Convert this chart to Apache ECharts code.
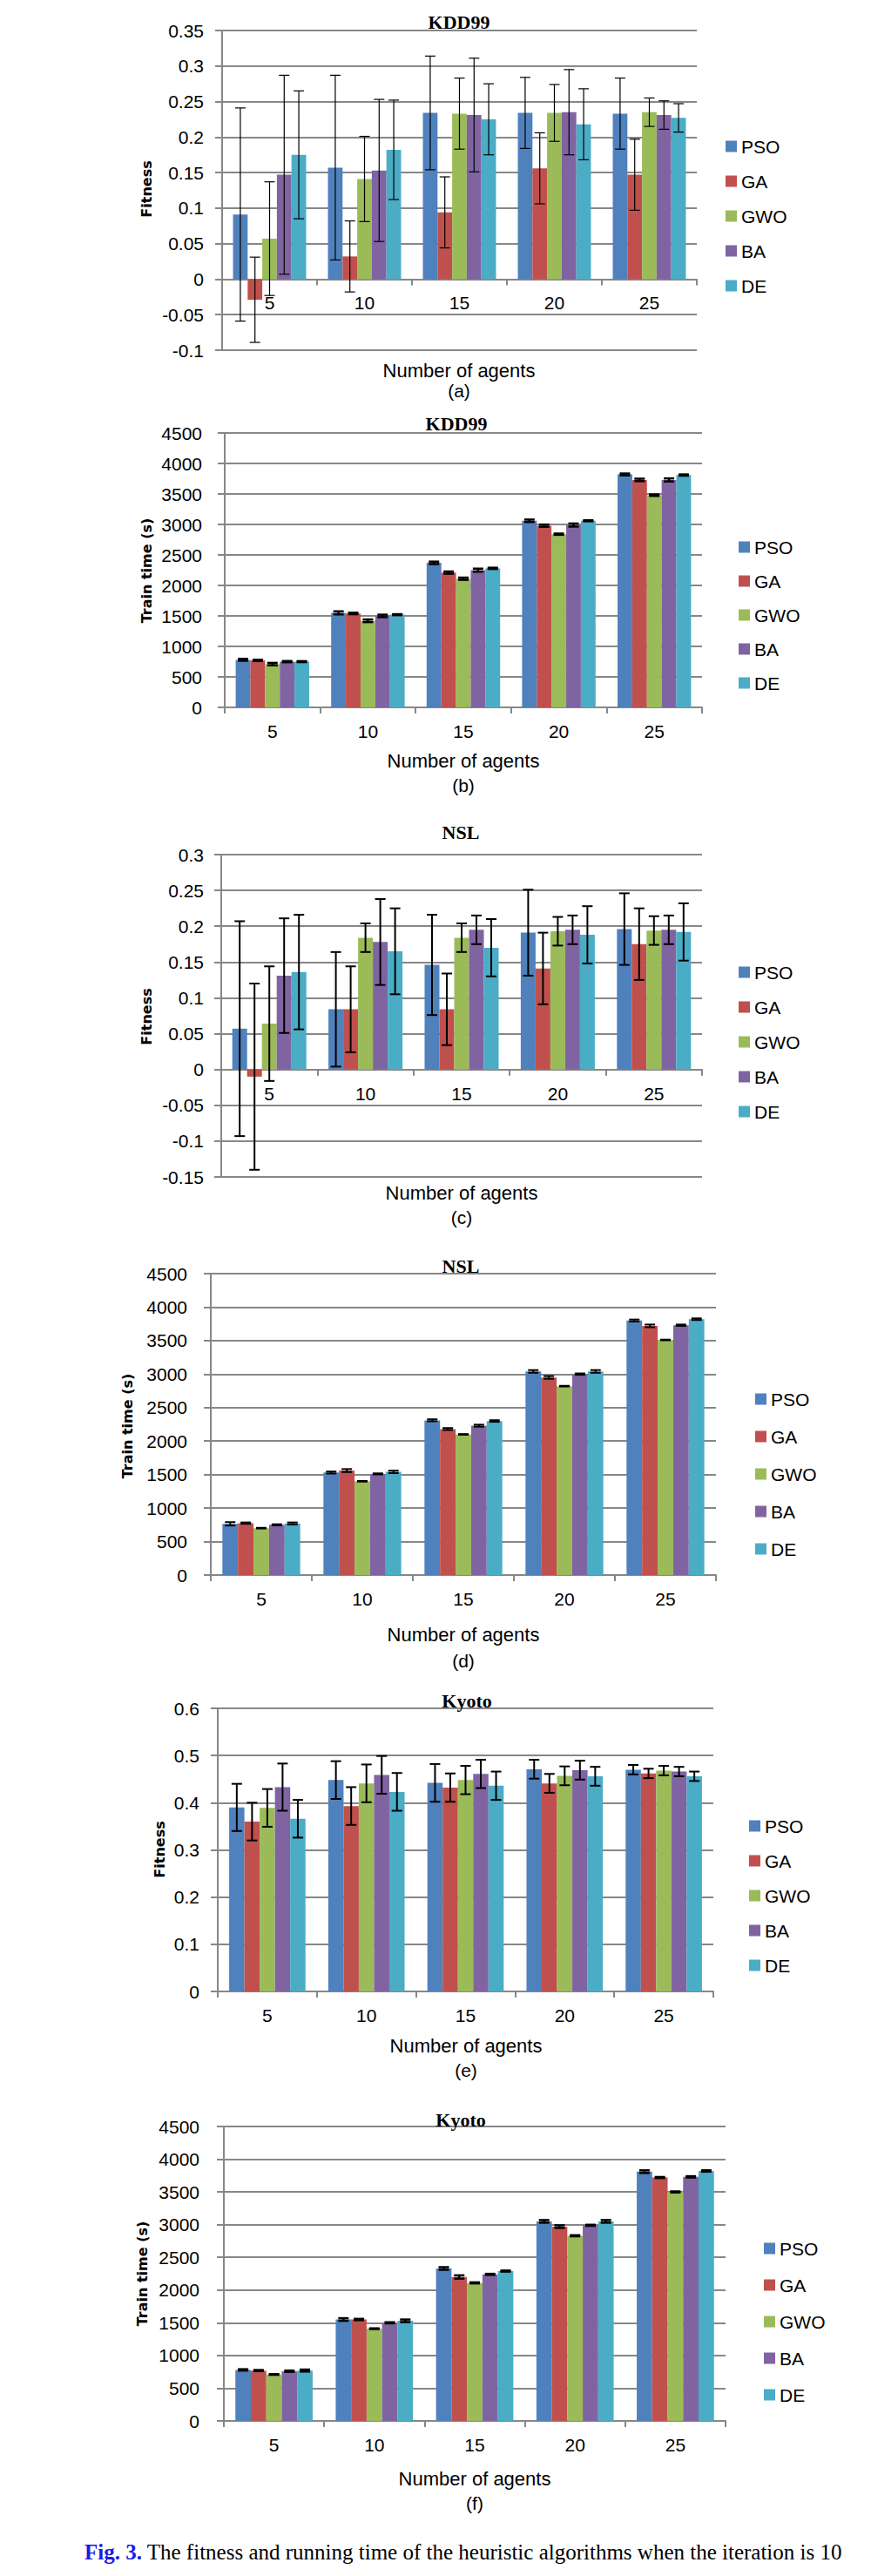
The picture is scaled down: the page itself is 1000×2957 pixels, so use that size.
<!DOCTYPE html>
<html><head><meta charset="utf-8">
<script src="https://cdn.jsdelivr.net/npm/echarts@6/dist/echarts.min.js"></script>
<style>html,body{margin:0;padding:0;background:#fff}#c{width:1000px;height:2957px}</style>
</head><body><div id="c"></div>
<script>
const categories = ['5', '10', '15', '20', '25'];
const algorithms = ['PSO', 'GA', 'GWO', 'BA', 'DE'];
const colors = ['#4F81BD', '#C0504D', '#9BBB59', '#8064A2', '#4BACC6'];

// rows: PSO, GA, GWO, BA, DE ; columns: 5,10,15,20,25 agents
const kddFitnessMean = [
  [0.091, 0.157, 0.234, 0.234, 0.233],
  [-0.029, 0.032, 0.094, 0.156, 0.147],
  [0.057, 0.141, 0.233, 0.234, 0.235],
  [0.147, 0.153, 0.231, 0.235, 0.231],
  [0.175, 0.182, 0.225, 0.218, 0.227]
];
const kddFitnessErr = [
  [0.150, 0.130, 0.080, 0.050, 0.050],
  [0.060, 0.050, 0.050, 0.050, 0.050],
  [0.080, 0.060, 0.050, 0.040, 0.020],
  [0.140, 0.100, 0.080, 0.060, 0.020],
  [0.090, 0.070, 0.050, 0.050, 0.020]
];
const kddTimeMean = [
  [780, 1550, 2370, 3060, 3820],
  [770, 1540, 2210, 2980, 3730],
  [710, 1420, 2110, 2840, 3480],
  [750, 1500, 2250, 2990, 3730],
  [750, 1520, 2280, 3060, 3810]
];
const kddTimeErr = [
  [15, 25, 20, 20, 15],
  [10, 12, 18, 18, 20],
  [20, 22, 18, 10, 12],
  [10, 20, 25, 25, 25],
  [8, 8, 10, 8, 10]
];
const nslFitnessMean = [
  [0.057, 0.084, 0.146, 0.191, 0.196],
  [-0.010, 0.084, 0.084, 0.141, 0.175],
  [0.064, 0.184, 0.184, 0.193, 0.194],
  [0.131, 0.178, 0.195, 0.195, 0.195],
  [0.136, 0.165, 0.170, 0.188, 0.192]
];
const nslFitnessErr = [
  [0.150, 0.080, 0.070, 0.060, 0.050],
  [0.130, 0.060, 0.050, 0.050, 0.050],
  [0.080, 0.020, 0.020, 0.020, 0.020],
  [0.080, 0.060, 0.020, 0.020, 0.020],
  [0.080, 0.060, 0.040, 0.040, 0.040]
];
const nslTimeMean = [
  [765, 1530, 2310, 3040, 3800],
  [775, 1560, 2180, 2950, 3720],
  [700, 1400, 2100, 2820, 3510],
  [750, 1510, 2230, 3000, 3730],
  [770, 1540, 2300, 3040, 3820]
];
const nslTimeErr = [
  [25, 15, 15, 20, 15],
  [10, 22, 15, 20, 20],
  [5, 5, 5, 5, 5],
  [8, 8, 15, 10, 10],
  [15, 18, 12, 20, 12]
];
const kyotoFitnessMean = [
  [0.390, 0.448, 0.442, 0.471, 0.470],
  [0.360, 0.393, 0.432, 0.441, 0.462],
  [0.389, 0.441, 0.448, 0.457, 0.468],
  [0.433, 0.459, 0.461, 0.469, 0.466],
  [0.366, 0.423, 0.436, 0.456, 0.456]
];
const kyotoFitnessErr = [
  [0.050, 0.040, 0.040, 0.020, 0.010],
  [0.040, 0.040, 0.030, 0.020, 0.010],
  [0.040, 0.040, 0.030, 0.020, 0.010],
  [0.050, 0.040, 0.030, 0.020, 0.010],
  [0.040, 0.040, 0.030, 0.020, 0.010]
];
const kyotoTimeMean = [
  [780, 1550, 2330, 3050, 3810],
  [770, 1550, 2200, 2970, 3720],
  [710, 1410, 2110, 2830, 3500],
  [760, 1500, 2240, 2990, 3730],
  [770, 1530, 2290, 3050, 3820]
];
const kyotoTimeErr = [
  [10, 20, 20, 20, 20],
  [8, 10, 25, 20, 8],
  [5, 5, 8, 8, 8],
  [10, 8, 8, 8, 10],
  [15, 20, 8, 20, 10]
];

const SANS = "'Liberation Sans', Arial, sans-serif";
const SERIF = "'Liberation Serif', 'Times New Roman', serif";
const BOLD = "'DejaVu Sans', Verdana, sans-serif";
const GRID = '#878787';
const GAP = 0.23;
const FS = 21;

const panels = [
  { title: 'KDD99', yName: 'Fitness', mean: kddFitnessMean, err: kddFitnessErr, min: -0.1, max: 0.35, interval: 0.05,
    grid: { left: 255, top: 35, width: 545, height: 367 }, titleXY: [527, 25], yTitleXY: [168, 217], xTitle: [527, 425], sub: [527, 448], label: '(a)',
    legend: { left: 833, c: 168, step: 40 }, lw: 1.2, lm: 21 },
  { title: 'KDD99', yName: 'Train time (s)', mean: kddTimeMean, err: kddTimeErr, min: 0, max: 4500, interval: 500,
    grid: { left: 258, top: 497, width: 548, height: 315 }, titleXY: [524, 486], yTitleXY: [168, 655], xTitle: [532, 873], sub: [532, 901], label: '(b)',
    legend: { left: 848, c: 628, step: 39 }, lw: 2.5, lm: 26 },
  { title: 'NSL', yName: 'Fitness', mean: nslFitnessMean, err: nslFitnessErr, min: -0.15, max: 0.3, interval: 0.05,
    grid: { left: 254, top: 981, width: 552, height: 370 }, titleXY: [529, 955], yTitleXY: [168, 1167], xTitle: [530, 1369], sub: [530, 1397], label: '(c)',
    legend: { left: 848, c: 1116, step: 40 }, lw: 2, lm: 20 },
  { title: 'NSL', yName: 'Train time (s)', mean: nslTimeMean, err: nslTimeErr, min: 0, max: 4500, interval: 500,
    grid: { left: 242, top: 1462, width: 580, height: 346 }, titleXY: [529, 1453], yTitleXY: [146, 1637], xTitle: [532, 1876], sub: [532, 1906], label: '(d)',
    legend: { left: 867, c: 1606, step: 43 }, lw: 2, lm: 27 },
  { title: 'Kyoto', yName: 'Fitness', mean: kyotoFitnessMean, err: kyotoFitnessErr, min: 0, max: 0.6, interval: 0.1,
    grid: { left: 250, top: 1961, width: 569, height: 325 }, titleXY: [536, 1952], yTitleXY: [183, 2123], xTitle: [535, 2348], sub: [535, 2376], label: '(e)',
    legend: { left: 860, c: 2096, step: 40 }, lw: 2, lm: 21 },
  { title: 'Kyoto', yName: 'Train time (s)', mean: kyotoTimeMean, err: kyotoTimeErr, min: 0, max: 4500, interval: 500,
    grid: { left: 257, top: 2441, width: 576, height: 338 }, titleXY: [529, 2433], yTitleXY: [163, 2610], xTitle: [545, 2845], sub: [545, 2873], label: '(f)',
    legend: { left: 877, c: 2581, step: 42 }, lw: 2.5, lm: 28 }
];

const grid = [], xAxis = [], yAxis = [], legend = [], series = [], graphic = [];

panels.forEach((p, i) => {
  grid.push(p.grid);
  // move the category axis up to the zero line when the value range includes negatives
  const zeroOffset = p.min < 0 ? -(0 - p.min) / (p.max - p.min) * p.grid.height : 0;
  xAxis.push({
    type: 'category', gridIndex: i, data: categories, position: 'bottom', offset: zeroOffset,
    axisLine: { onZero: false, lineStyle: { color: GRID, width: 2 } },
    axisTick: { show: true, length: 7, interval: 0, alignWithLabel: false, lineStyle: { color: GRID, width: 2 } },
    axisLabel: { fontSize: FS, fontFamily: SANS, color: '#000', margin: 17 },
    splitLine: { show: false }
  });
  yAxis.push({
    type: 'value', gridIndex: i, min: p.min, max: p.max, interval: p.interval,
    axisLine: { show: true, lineStyle: { color: GRID, width: 2 } },
    axisTick: { show: true, length: 8, lineStyle: { color: GRID, width: 2 } },
    axisLabel: { fontSize: FS, fontFamily: SANS, color: '#000', margin: p.lm,
      formatter: function (v) { return String(Math.round(v * 1000) / 1000); } },
    splitLine: { show: true, lineStyle: { color: GRID, width: 2 } }
  });
  legend.push({
    orient: 'vertical', left: p.legend.left, top: p.legend.c - 10.5, padding: 0,
    itemWidth: 13, itemHeight: 13, itemGap: p.legend.step - 21, icon: 'rect', selectedMode: false,
    textStyle: { fontSize: FS, lineHeight: 21, fontFamily: SANS, color: '#000' },
    data: algorithms
  });
  algorithms.forEach((a, k) => {
    series.push({
      name: a, type: 'bar', xAxisIndex: i, yAxisIndex: i,
      data: p.mean[k], barGap: '0%', barCategoryGap: (GAP * 100) + '%',
      itemStyle: { color: colors[k] }, silent: true, animation: false
    });
  });
  const errData = [];
  algorithms.forEach((a, k) => {
    p.mean[k].forEach((m, c) => {
      errData.push([c, m - p.err[k][c], m + p.err[k][c], k]);
    });
  });
  const lw = p.lw;
  series.push({
    type: 'custom', xAxisIndex: i, yAxisIndex: i, z: 10, silent: true, animation: false,
    data: errData, encode: { x: 0, y: [1, 2] },
    renderItem: function (params, api) {
      const c = api.value(0), lo = api.value(1), hi = api.value(2), k = api.value(3);
      const band = api.size([1, 0])[0];
      const bw = band * (1 - GAP) / 5;
      const pLo = api.coord([c, lo]);
      const pHi = api.coord([c, hi]);
      const x = pLo[0] + (k - 2) * bw;
      const hw = 6;
      const st = { stroke: '#000', lineWidth: lw };
      return {
        type: 'group', children: [
          { type: 'line', shape: { x1: x, y1: pLo[1], x2: x, y2: pHi[1] }, style: st },
          { type: 'line', shape: { x1: x - hw, y1: pLo[1], x2: x + hw, y2: pLo[1] }, style: st },
          { type: 'line', shape: { x1: x - hw, y1: pHi[1], x2: x + hw, y2: pHi[1] }, style: st }
        ]
      };
    }
  });
  graphic.push({ type: 'text', x: p.titleXY[0], y: p.titleXY[1], z: 100,
    style: { text: p.title, fill: '#000', font: 'bold 22px ' + SERIF, align: 'center', verticalAlign: 'middle' } });
  graphic.push({ type: 'text', x: p.yTitleXY[0], y: p.yTitleXY[1], rotation: Math.PI / 2, z: 100,
    style: { text: p.yName, fill: '#000', font: 'bold 16px ' + BOLD, align: 'center', verticalAlign: 'middle' } });
  graphic.push({ type: 'text', x: p.xTitle[0], y: p.xTitle[1], z: 100,
    style: { text: 'Number of agents', fill: '#000', font: '22px ' + SANS, align: 'center', verticalAlign: 'middle' } });
  graphic.push({ type: 'text', x: p.sub[0], y: p.sub[1], z: 100,
    style: { text: p.label, fill: '#000', font: '21px ' + SANS, align: 'center', verticalAlign: 'middle' } });
});

graphic.push({ type: 'text', x: 97, y: 2929, z: 100,
  style: {
    text: '{a|Fig. 3.} The fitness and running time of the heuristic algorithms when the iteration is 10',
    fill: '#000', font: '25px ' + SERIF, align: 'left', verticalAlign: 'middle',
    rich: { a: { fill: '#1a1ae6', fontWeight: 'bold', fontSize: 25, fontFamily: SERIF } }
  } });

const chart = echarts.init(document.getElementById('c'), null, { renderer: 'svg', width: 1000, height: 2957 });
chart.setOption({
  animation: false,
  backgroundColor: '#fff',
  grid, xAxis, yAxis, legend, series, graphic
});
</script>
</body></html>
